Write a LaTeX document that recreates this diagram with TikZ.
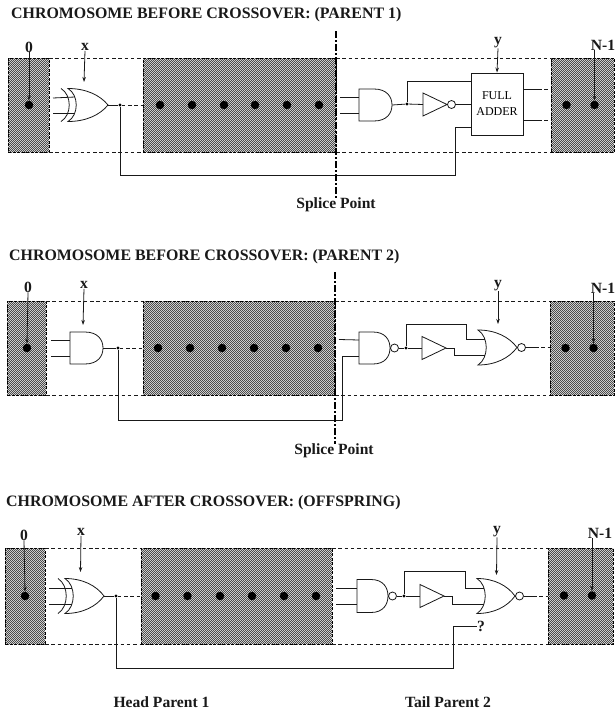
\documentclass[tikz,border=0pt]{standalone}
\usepackage{fontspec}
\setmainfont{Liberation Serif}
\usetikzlibrary{patterns,arrows.meta}
\pgfdeclarepatternformonly{dither}{\pgfqpoint{0pt}{0pt}}{\pgfqpoint{2.4pt}{2.4pt}}{\pgfqpoint{2.4pt}{2.4pt}}{%
  \pgfpathrectangle{\pgfqpoint{0pt}{0pt}}{\pgfqpoint{1.2pt}{1.2pt}}%
  \pgfpathrectangle{\pgfqpoint{1.2pt}{1.2pt}}{\pgfqpoint{1.2pt}{1.2pt}}%
  \pgfusepath{fill}}
\tikzset{
  wire/.style={line width=0.8pt,black!90},
  dashwire/.style={line width=0.8pt,black!90,dash pattern=on 3.5pt off 2.8pt},
  gatebody/.style={line width=0.8pt,black!90,fill=white},
  graybox/.style={rectangle,inner sep=0pt,outer sep=0pt,preaction={fill=black!12},pattern=dither,pattern color=black!70,draw=black,line width=0.8pt,dash pattern=on 3pt off 1.5pt},
  bit/.style={circle,fill=black,inner sep=0pt,minimum size=8.5pt},
  jn/.style={circle,fill=black,inner sep=0pt,minimum size=3.2pt},
  bub/.style={circle,draw=black!90,fill=white,line width=0.8pt,inner sep=0pt,minimum size=8pt},
  tag/.style={font=\bfseries\fontsize{15.6}{16}\selectfont,inner sep=0pt,text=black!90},
  heading/.style={font=\bfseries\fontsize{15.9}{16}\selectfont,inner sep=0pt,anchor=west,text=black!90},
  arr/.style={line width=0.8pt,black!90,-{Stealth[length=5pt,width=3.5pt]}},
  splice/.style={line width=2pt,black,dash pattern=on 7pt off 2pt on 2pt off 2pt},
  adder/.style={rectangle,draw=black!90,fill=white,line width=0.9pt,inner sep=0pt,align=center,font=\fontsize{12}{16}\selectfont,minimum width=52pt,minimum height=62pt}
}
% gates: name, left x, centre y, width, height
\newcommand{\gAnd}[5]{%
  \draw[gatebody] (#2,#3-#5/2) -- (#2+#4*0.45,#3-#5/2) .. controls (#2+#4*0.85,#3-#5/2) and (#2+#4,#3-#5*0.25) .. (#2+#4,#3) .. controls (#2+#4,#3+#5*0.25) and (#2+#4*0.85,#3+#5/2) .. (#2+#4*0.45,#3+#5/2) -- (#2,#3+#5/2) -- cycle;
  \coordinate (#1-a) at (#2,#3-8);
  \coordinate (#1-b) at (#2,#3+8);
  \coordinate (#1-o) at (#2+#4,#3);}
\newcommand{\gOr}[5]{%
  \draw[gatebody] (#2,#3-#5/2) .. controls (#2+#4*0.45,#3-#5/2) and (#2+#4*0.8,#3-#5*0.3) .. (#2+#4,#3) .. controls (#2+#4*0.8,#3+#5*0.3) and (#2+#4*0.45,#3+#5/2) .. (#2,#3+#5/2) .. controls (#2+11,#3+#5*0.3) and (#2+11,#3-#5*0.3) .. (#2,#3-#5/2) -- cycle;
  \coordinate (#1-a) at (#2+7,#3-8);
  \coordinate (#1-b) at (#2+7,#3+8);
  \coordinate (#1-o) at (#2+#4,#3);}
\newcommand{\gXorArc}[3]{%
  \draw[wire] (#1-7,#2-#3/2) .. controls (#1+4,#2-#3*0.3) and (#1+4,#2+#3*0.3) .. (#1-7,#2+#3/2);}
\newcommand{\gTri}[4]{%
  \draw[gatebody] (#2,#3-#4/2) -- (#2+24,#3) -- (#2,#3+#4/2) -- cycle;
  \coordinate (#1-i) at (#2,#3);
  \coordinate (#1-o) at (#2+24,#3);}
\newcommand{\gBox}[5]{%
  \node[graybox,minimum width={(#4-#2)*1pt},minimum height={(#5-#3)*1pt}] (#1) at ({(#2+#4)/2},{(#3+#5)/2}) {};}
\begin{document}
\begin{tikzpicture}[x=1pt,y=-1pt]
\useasboundingbox (0,0) rectangle (614,712);
\fill[white] (0,0) rectangle (614,712);

%% ===== ROW 1 =====
\node[heading] (t1) at (11,15) {CHROMOSOME BEFORE CROSSOVER: (PARENT 1)};
\gBox{a0}{8}{58}{49}{152}
\gBox{a1}{143}{58}{336}{152}
\gBox{a2}{551}{58}{614}{152}
\draw[dashwire] (a0.north east) -- (a1.north west);
\draw[dashwire] (a0.south east) -- (a1.south west);
\draw[dashwire] (a1.north east) -- (a2.north west);
\draw[dashwire] (a1.south east) -- (a2.south west);
\node[bit] (a0d) at (29,105) {};
\foreach \n/\x in {1/160,2/192,3/224,4/255,5/287,6/319} \node[bit] (a1d\n) at (\x,105) {};
\node[bit] (a2d1) at (566.5,105) {};
\node[bit] (a2d2) at (594.5,105) {};
\node[tag] (a0l) at (29,47) {0};
\node[tag] (axl) at (85,47) {x};
\node[tag] (ayl) at (498,43) {y};
\node[tag] (anl) at (603,45) {N-1};
\draw[arr] (a0l.south) -- (a0d.north);
\coordinate (axt) at (84,82);
\draw[arr] (axl.south) -- (axt);
% xor
\coordinate (ax1) at (53,98); \coordinate (ax2) at (53,113);
\gOr{ax}{68}{105}{40}{33}
\draw[wire] (ax1) -- (ax-a);
\draw[wire] (ax2) -- (ax-b);
\gXorArc{68}{105}{33}
\node[jn] (aj1) at (120,105) {};
\draw[wire] (ax-o) -- (aj1);
\draw[dashwire] (aj1) -- (a1.west |- aj1);
% and
\coordinate (ag1) at (340,97); \coordinate (ag2) at (340,113);
\gAnd{ag}{359}{105}{33}{32}
\draw[wire] (ag1) -- (ag-a);
\draw[wire] (ag2) -- (ag-b);
\node[jn] (aj2) at (407,104) {};
\draw[wire] (ag-o) -- (aj2);
\gTri{ai}{423}{104.5}{23}
\draw[wire] (aj2) -- (ai-i);
\node[bub] (aib) at (451.5,104.5) {};
\node[adder] (fa) at (497,104) {FULL\\ADDER};
\draw[wire] (aib.east) -- (aib.east -| fa.west);
\coordinate (at) at (471,81);
\draw[wire] (aj2) |- (at);
\draw[arr] (ayl.south) -- (fa.north);
\coordinate (ao1) at (538,89); \coordinate (ao2) at (538,120);
\draw[wire] (fa.east |- ao1) -- (ao1);
\draw[wire] (fa.east |- ao2) -- (ao2);
\draw[dashwire] (ao1) -- (a2.west |- ao1);
\draw[dashwire] (ao2) -- (a2.west |- ao2);
\coordinate (ac1) at (455,127);
\coordinate (ac0) at (455,175);
\draw[wire] (aj1) |- (ac0) -- (ac1) -- (fa.west |- ac1);
\draw[arr] (anl.south -| a2d2) -- (a2d2.north);
\coordinate (as0) at (335.5,31);
\node[tag] (asl) at (336,205) {Splice Point};
\draw[splice] (as0) -- (asl.north -| as0);

%% ===== ROW 2 =====
\node[heading] (t2) at (9,257) {CHROMOSOME BEFORE CROSSOVER: (PARENT 2)};
\gBox{b0}{7}{301}{46}{395}
\gBox{b1}{143}{301}{335}{395}
\gBox{b2}{550}{301}{614}{395}
\draw[dashwire] (b0.north east) -- (b1.north west);
\draw[dashwire] (b0.south east) -- (b1.south west);
\draw[dashwire] (b1.north east) -- (b2.north west);
\draw[dashwire] (b1.south east) -- (b2.south west);
\node[bit] (b0d) at (27,348) {};
\foreach \n/\x in {1/158,2/190,3/222,4/254,5/286,6/318} \node[bit] (b1d\n) at (\x,348) {};
\node[bit] (b2d1) at (565.5,348) {};
\node[bit] (b2d2) at (593.5,348) {};
\node[tag] (b0l) at (28,287) {0};
\node[tag] (bxl) at (84,285) {x};
\node[tag] (byl) at (498,286) {y};
\node[tag] (bnl) at (603,288) {N-1};
\draw[arr] (b0l.south) -- (b0d.north);
\coordinate (bxt) at (83,325);
\draw[arr] (bxl.south) -- (bxt);
\coordinate (bx1) at (51,340); \coordinate (bx2) at (51,356);
\gAnd{bx}{70}{348}{33}{32}
\draw[wire] (bx1) -- (bx-a);
\draw[wire] (bx2) -- (bx-b);
\node[jn] (bj1) at (118,348) {};
\draw[wire] (bx-o) -- (bj1);
\draw[dashwire] (bj1) -- (b1.west |- bj1);
\coordinate (bg1) at (339,339.5);
\gAnd{bg}{359}{348}{31}{32}
\draw[wire] (bg1) -- (bg-a);
\node[bub] (bgb) at (394.5,348) {};
\draw[wire] (bg-o) -- (bgb.west);
\node[jn] (bj2) at (406,348) {};
\draw[wire] (bgb.east) -- (bj2);
\gTri{bi}{422}{348}{23}
\draw[wire] (bj2) -- (bi-i);
\gOr{bo}{478}{347.5}{39}{35}
\coordinate (bk1) at (466,324.5);
\draw[wire] (bj2) |- (bk1) |- (bo-a);
\coordinate (bk2) at (454,355.5);
\draw[wire] (bi-o) -| (bk2) -- (bo-b);
\node[bub] (bob) at (521.5,347.5) {};
\draw[wire] (bo-o) -- (bob.west);
\coordinate (bp) at (535,347.5);
\draw[wire] (bob.east) -- (bp);
\draw[dashwire] (bp) -- (b2.west |- bp);
\coordinate (byt) at (498,324);
\draw[arr] (byl.south) -- (byt);
\draw[arr] (bnl.south -| b2d2) -- (b2d2.north);
\coordinate (bc) at (342,420);
\draw[wire] (bj1) |- (bc) |- (bg-b);
\coordinate (bs0) at (334.5,272);
\node[tag] (bsl) at (334,451) {Splice Point};
\draw[splice] (bs0) -- (bsl.north -| bs0);

%% ===== ROW 3 =====
\node[heading] (t3) at (6,503) {CHROMOSOME AFTER CROSSOVER: (OFFSPRING)};
\gBox{c0}{5}{548}{45}{644}
\gBox{c1}{141}{548}{332}{644}
\gBox{c2}{548}{548}{613}{644}
\draw[dashwire] (c0.north east) -- (c1.north west);
\draw[dashwire] (c0.south east) -- (c1.south west);
\draw[dashwire] (c1.north east) -- (c2.north west);
\draw[dashwire] (c1.south east) -- (c2.south west);
\node[bit] (c0d) at (25,596) {};
\foreach \n/\x in {1/155.5,2/187.5,3/220,4/252,5/284,6/316} \node[bit] (c1d\n) at (\x,596) {};
\node[bit] (c2d1) at (564,595.5) {};
\node[bit] (c2d2) at (592,595.5) {};
\node[tag] (c0l) at (24,535) {0};
\node[tag] (cxl) at (81,532) {x};
\node[tag] (cyl) at (497,532) {y};
\node[tag] (cnl) at (600,533) {N-1};
\draw[arr] (c0l.south) -- (c0d.north);
\coordinate (cxt) at (80.5,572);
\draw[arr] (cxl.south) -- (cxt);
\coordinate (cx1) at (49,588); \coordinate (cx2) at (49,604);
\gOr{cx}{65}{596}{39}{35}
\draw[wire] (cx1) -- (cx-a);
\draw[wire] (cx2) -- (cx-b);
\gXorArc{65}{596}{35}
\node[jn] (cj1) at (116,596) {};
\draw[wire] (cx-o) -- (cj1);
\draw[dashwire] (cj1) -- (c1.west |- cj1);
\coordinate (cg1) at (336,588); \coordinate (cg2) at (336,604);
\gAnd{cg}{357}{596}{31}{33}
\draw[wire] (cg1) -- (cg-a);
\draw[wire] (cg2) -- (cg-b);
\node[bub] (cgb) at (392.5,596) {};
\draw[wire] (cg-o) -- (cgb.west);
\node[jn] (cj2) at (404,596) {};
\draw[wire] (cgb.east) -- (cj2);
\gTri{ci}{420}{596}{23}
\draw[wire] (cj2) -- (ci-i);
\gOr{co}{477}{596}{38}{35}
\coordinate (ck1) at (465,571);
\draw[wire] (cj2) |- (ck1) |- (co-a);
\coordinate (ck2) at (452,604);
\draw[wire] (ci-o) -| (ck2) -- (co-b);
\node[bub] (cob) at (519.5,596) {};
\draw[wire] (co-o) -- (cob.west);
\coordinate (cp) at (533,596);
\draw[wire] (cob.east) -- (cp);
\draw[dashwire] (cp) -- (c2.west |- cp);
\coordinate (cyt) at (496.5,575);
\draw[arr] (cyl.south) -- (cyt);
\draw[arr] (cnl.south -| c2d2) -- (c2d2.north);
\node[tag] (cq) at (481,626.5) {?};
\coordinate (cc) at (453,668);
\draw[wire] (cj1) |- (cc) |- (cq.west);

\node[tag] (h1) at (161.5,702) {Head Parent 1};
\node[tag] (h2) at (448,702) {Tail Parent 2};
\end{tikzpicture}
\end{document}
